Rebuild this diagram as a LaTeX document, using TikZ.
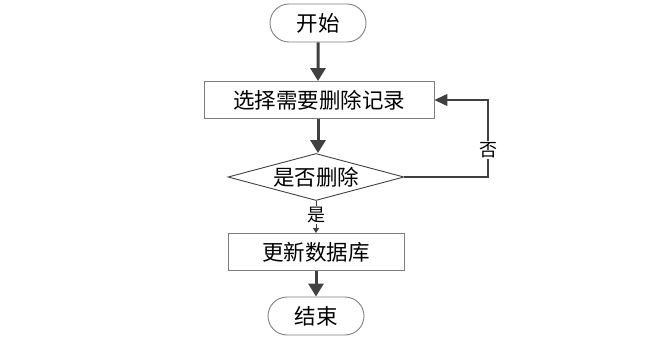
\documentclass[tikz,border=0pt]{standalone}
\usepackage{fontspec}
\newfontfamily\cjk{Noto Sans CJK SC}
\usetikzlibrary{shapes.geometric,shapes.misc,arrows.meta}
\definecolor{linegray}{HTML}{404040}
\definecolor{boxgray}{HTML}{7F7F7F}
\tikzset{
  term/.style={rounded rectangle, draw=boxgray, line width=0.9pt, inner sep=0pt,
    minimum width=96pt, minimum height=38pt, font=\fontsize{21.5}{21.5}\cjk},
  procbox/.style={rectangle, draw=boxgray, line width=0.9pt, inner sep=0pt,
    minimum height=37pt, font=\fontsize{21.5}{21.5}\cjk},
  decide/.style={diamond, draw=linegray, line width=0.9pt, inner sep=0pt, aspect=3.7,
    minimum width=176pt, minimum height=47pt, font=\fontsize{21.5}{21.5}\cjk},
  bigflow/.style={draw=linegray, line width=3pt, -{Triangle[length=13pt,width=15pt]}},
  thinflow/.style={draw=linegray, line width=1.2pt, -{Triangle[length=13pt,width=12pt]}},
  yesflow/.style={draw=linegray, line width=0.8pt, -{Triangle[length=5pt,width=6pt]}},
  lbl/.style={fill=white, inner sep=1pt, font=\fontsize{18}{18}\cjk}
}
\begin{document}
\begin{tikzpicture}[x=1pt, y=-1pt]
    \useasboundingbox (0,0) rectangle (655,350);
    % Nodes
    \node[term] (start) at (318, 23) {开始};
    \node[procbox, minimum width=230pt] (sel) at (319, 100) {选择需要删除记录};
    \node[decide] (dec) at (316, 177) {是否删除};
    \node[procbox, minimum width=176pt] (upd) at (316, 252) {更新数据库};
    \node[term] (stop) at (316, 316) {结束};
    \coordinate (back) at (488, 177);

    % Edges
    \draw[bigflow] (start) -- (start |- sel.north);
    \draw[bigflow] (sel.south -| start) -- (start |- dec.north);
    \draw[yesflow] (dec) -- node[lbl, pos=0.45] {是} (upd);
    \draw[bigflow] (upd) -- (stop);
    \draw[thinflow] (dec.east) -- (back) |- node[lbl, pos=0.175] {否} (sel.east);
\end{tikzpicture}
\end{document}
